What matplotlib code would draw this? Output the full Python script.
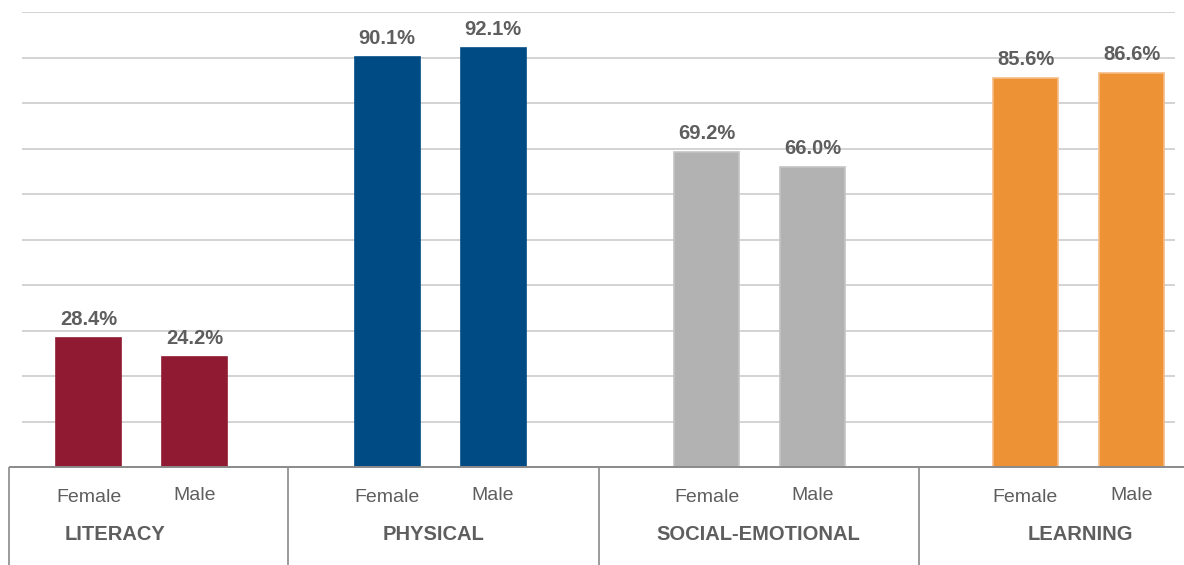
import matplotlib.pyplot as plt

domains = ['LITERACY', 'PHYSICAL', 'SOCIAL-EMOTIONAL', 'LEARNING']
genders = ['Female', 'Male']
female = [28.4, 90.1, 69.2, 85.6]
male = [24.2, 92.1, 66.0, 86.6]
colors = ['#901a32', '#004b84', '#b2b2b2', '#ee9236']
edges = ['#901a32', '#004b84', '#c4c4c4', '#f6bb85']

# layout in pixel-like x units
group_centers = [141.5, 440, 759.5, 1078.5]
label_x = [115, 434, 758, 1080]
separators = [9, 288, 599, 919]
offset = 53
bar_w = 65

plt.rcParams['font.family'] = ['Liberation Sans', 'DejaVu Sans']
text_col = '#5e5e5e'

fig = plt.figure(figsize=(11.84, 5.65), dpi=100)
ax = fig.add_axes([0, 98 / 565, 1, 455 / 565])
ax.set_xlim(0, 1184)
ax.set_ylim(0, 100)
ax.axis('off')

px = 455 / 100  # pixels per percent

ax.hlines(range(10, 101, 10), 22, 1175, color='#cccccc', lw=1.2, zorder=0)
ax.hlines(0, 9, 1184, color='#8a8a8a', lw=1.4, zorder=3, clip_on=False)
ax.vlines(separators, -98 / px, 0, color='#8a8a8a', lw=1.2, clip_on=False)

for i, d in enumerate(domains):
    for j, vals in enumerate([female, male]):
        x = group_centers[i] + (j * 2 - 1) * offset
        v = vals[i]
        ax.bar(x, v, width=bar_w, color=colors[i], edgecolor=edges[i],
               lw=1.2, zorder=2)
        ax.text(x, v + 9 / px, f'{v:.1f}%', ha='center', va='bottom',
                fontsize=14.5, fontweight='bold', color=text_col)
        ax.text(x, -(31 if j == 0 else 29) / px, genders[j], ha='center',
                va='center', fontsize=14, color=text_col, clip_on=False)
    ax.text(label_x[i], -67 / px, d,
            ha='center', va='center', fontsize=14.5, fontweight='bold',
            color=text_col, clip_on=False)

fig.savefig('out.png', dpi=100)
